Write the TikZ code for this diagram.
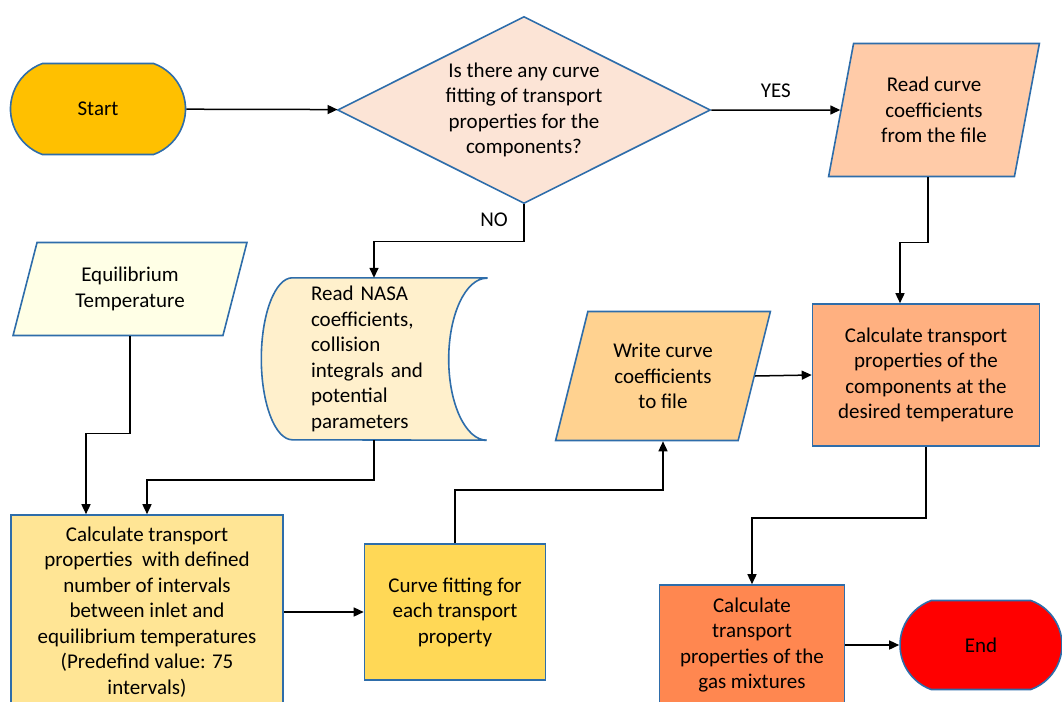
\documentclass[tikz,border=0pt]{standalone}
\usepackage{fontspec}
\setmainfont{Carlito}
\usetikzlibrary{shapes.geometric,shapes.misc,arrows.meta}
\definecolor{edgeblue}{HTML}{2E6DAA}
\definecolor{startfill}{HTML}{FFC000}
\definecolor{decfill}{HTML}{FCE4D6}
\definecolor{readfill}{HTML}{FFCBA8}
\definecolor{equilfill}{HTML}{FFFFE6}
\definecolor{nasafill}{HTML}{FFF0CC}
\definecolor{writefill}{HTML}{FFD290}
\definecolor{compfill}{HTML}{FFB080}
\definecolor{gasfill}{HTML}{FF8750}
\definecolor{calcfill}{HTML}{FFE595}
\definecolor{fitfill}{HTML}{FFD856}
\definecolor{endfill}{HTML}{FF0000}

\begin{document}
\begin{tikzpicture}[x=1pt, y=-1pt, >={Triangle[length=10pt,width=9pt]},
                    every node/.style={font=\fontsize{21}{25.5}\selectfont, align=center},
                    box/.style={draw=edgeblue, line width=1.6pt, inner sep=0pt},
                    terminal/.style={box, rounded rectangle, rounded rectangle arc length=140},
                    iobox/.style={box, trapezium, trapezium stretches=true},
                    flow/.style={line width=1.5pt, ->}]

  \useasboundingbox (0,0) rectangle (1062,701);

  %% start and decision
  \node[terminal, fill=startfill, minimum width=175, minimum height=91] (start) at (98,109) {Start};
  \node[box, diamond, aspect=2, fill=decfill, minimum width=373, minimum height=187] (dec) at (524,110)
    {Is there any curve\\fitting of transport\\properties for the\\components?};

  %% yes branch
  \node[iobox, fill=readfill, trapezium left angle=76, trapezium right angle=104,
        minimum width=211, minimum height=133] (readc) at (934,110)
    {Read curve\\coefficients\\from the file};
  \node[box, rectangle, fill=compfill, minimum width=227, minimum height=142] (calccomp) at (926,375)
    {Calculate transport\\properties of the\\components at the\\desired temperature};
  \node[box, rectangle, fill=gasfill, minimum width=185, minimum height=120] (gas) at (752,645)
    {Calculate\\transport\\properties of the\\gas mixtures};
  \node[terminal, fill=endfill, minimum width=162, minimum height=89] (endn) at (981,645) {End};

  %% no branch
  \node[iobox, fill=equilfill, trapezium left angle=72, trapezium right angle=108,
        minimum width=234, minimum height=93] (equil) at (130,289)
    {Equilibrium\\Temperature};
  \node[inner sep=0pt, minimum width=225, minimum height=162] (nasa) at (374,359) {};
  \draw[edgeblue, line width=1.6pt, fill=nasafill]
    (nasa.north east) -- ([xshift=31]nasa.north west)
    arc[start angle=270, end angle=90, x radius=31, y radius=81]
    -- (nasa.south east)
    arc[start angle=90, end angle=270, x radius=38, y radius=81] -- cycle;
  \node[inner sep=0pt, text width=132, align=left] (nasatext) at ([xshift=3]nasa.center)
    {Read NASA\\coefficients,\\collision\\integrals and\\potential\\parameters};
  \node[box, rectangle, fill=calcfill, minimum width=272, minimum height=194] (calc1) at (147,612)
    {Calculate transport\\properties\ \ with defined\\number of intervals\\between inlet and\\equilibrium temperatures\\(Predefind value: 75\\intervals)};
  \node[box, rectangle, fill=fitfill, minimum width=181, minimum height=136] (curvefit) at (455,612)
    {Curve fitting for\\each transport\\property};
  \node[iobox, fill=writefill, trapezium left angle=72, trapezium right angle=108,
        minimum width=215, minimum height=129] (wcurve) at (663,376)
    {Write curve\\coefficients\\to file};

  %% connectors
  \draw[flow] (start) -- (dec);
  \draw[flow] (dec.east) -- (readc.west) node[midway, above=8pt] (yes) {YES};
  \draw[flow] ([xshift=-6]readc.center |- readc.south) -- ++(0,65) -| ([xshift=-26]calccomp.north);
  \draw[flow] (calccomp.south) -- ++(0,71) -| (gas.north);
  \draw[flow] (gas) -- (endn);
  \draw[flow] (dec.south) -- ++(0,37) -| (nasa.north);
  \node (no) at (494,220) {NO};
  \draw[flow] (nasa.south) -- ++(0,40) -| (calc1.north);
  \draw[flow] (equil.center |- equil.south) -- ++(0,97) -| ([xshift=-61]calc1.north);
  \draw[flow] (calc1) -- (curvefit);
  \draw[flow] (curvefit.north) -- ++(0,-53) -| (wcurve.center |- wcurve.south);
  \draw[flow] (wcurve.east) -- (calccomp.west);

\end{tikzpicture}
\end{document}
